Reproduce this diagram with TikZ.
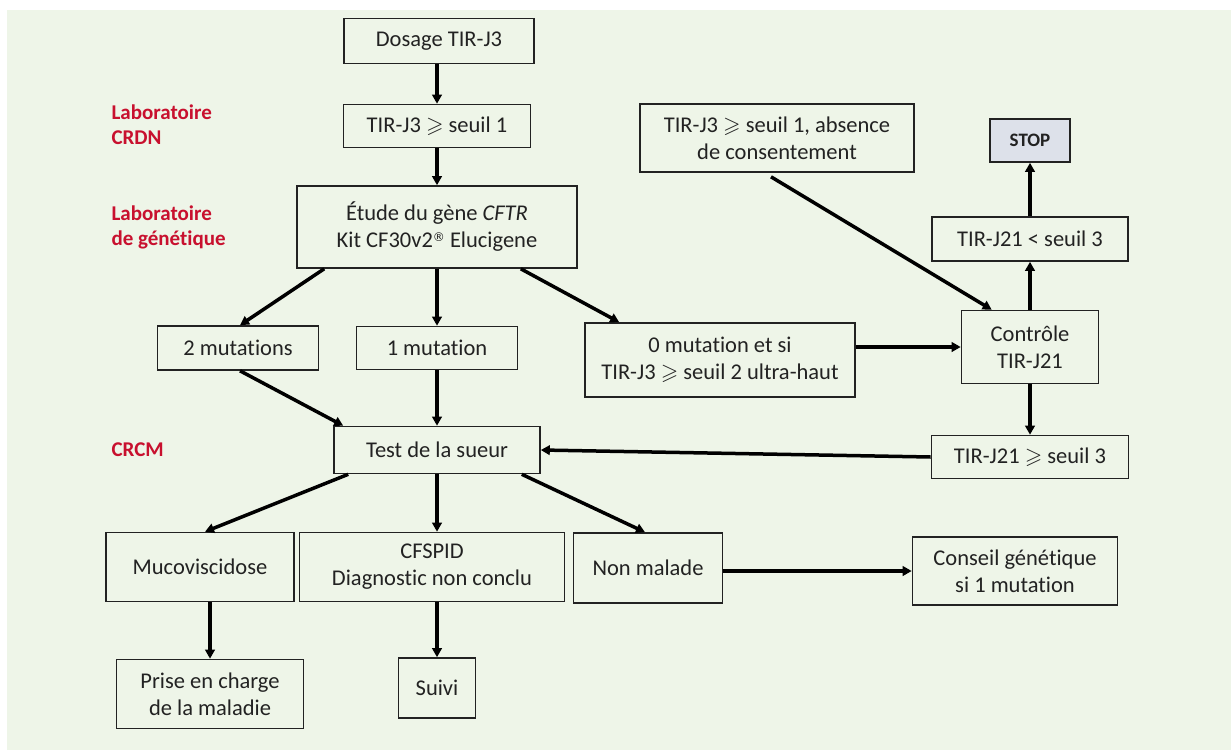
\documentclass[tikz,border=0pt]{standalone}
\usepackage{amssymb}
\usepackage{fontspec}
\setmainfont[Ligatures={NoCommon}]{Carlito}
\newfontfamily\regfont{DejaVu Sans}
\usetikzlibrary{arrows.meta,calc}
\definecolor{bgc}{RGB}{238,245,232}
\definecolor{redl}{RGB}{200,16,46}
\definecolor{stopc}{RGB}{221,225,234}
\definecolor{txt}{RGB}{34,34,34}
\begin{document}
\begin{tikzpicture}[x=1pt,y=-1pt,
 box/.style={draw=txt, line width=1.6pt, inner sep=0pt, align=center, text=txt, font=\fontsize{22.5}{27}\selectfont},
 arr/.style={line width=3.5pt, -{Triangle[length=9pt,width=9.5pt]}, black},
 lab/.style={anchor=west, align=left, text=redl, font=\fontsize{21}{25}\selectfont\bfseries}]

\fill[white] (0,0) rectangle (1231,750);
\fill[bgc] (7,10) rectangle (1231,750);
\useasboundingbox (0,0) rectangle (1231,750);

% side labels
\node[lab] (l1) at (108,125) {Laboratoire\\CRDN};
\node[lab] (l2) at (108,227) {Laboratoire\\de génétique};
\node[lab] (l3) at (108,450) {CRCM};

% boxes
\node[box, minimum width=190pt, minimum height=45pt] (dosage) at (439,41) {Dosage TIR-J3};
\node[box, minimum width=187pt, minimum height=43pt] (seuil1) at (437,126) {TIR-J3 $\geqslant$ seuil 1};
\node[box, minimum width=280pt, minimum height=82pt] (etude) at (437,227) {Étude du gène \textit{CFTR}\\Kit CF30v2\raisebox{0.6ex}{\regfont\fontsize{12}{12}\selectfont ®} Elucigene};
\node[box, minimum width=161pt, minimum height=44pt] (m2) at (238,348) {2 mutations};
\node[box, minimum width=161pt, minimum height=43pt] (m1) at (437,348) {1 mutation};
\node[box, minimum width=270pt, minimum height=74pt] (m0) at (720,360) {0 mutation et si\\TIR-J3 $\geqslant$ seuil 2 ultra-haut};
\node[box, minimum width=274pt, minimum height=68pt] (absence) at (777,138) {TIR-J3 $\geqslant$ seuil 1, absence\\de consentement};
\node[box, fill=stopc, minimum width=80pt, minimum height=43pt, font=\fontsize{19}{22}\selectfont\bfseries] (stop) at (1030,140.5) {STOP};
\node[box, minimum width=196pt, minimum height=44pt] (lt3) at (1030,239) {TIR-J21 < seuil 3};
\node[box, minimum width=137pt, minimum height=73pt] (ctrl) at (1030,347) {Contrôle\\TIR-J21};
\node[box, minimum width=197pt, minimum height=43pt] (ge3) at (1030,457) {TIR-J21 $\geqslant$ seuil 3};
\node[box, minimum width=206pt, minimum height=47pt] (test) at (437,450) {Test de la sueur};
\node[box, minimum width=188pt, minimum height=69pt] (muco) at (200,567) {Mucoviscidose};
\node[box, minimum width=265pt, minimum height=69pt] (cfspid) at (432,567) {CFSPID\\Diagnostic non conclu};
\node[box, minimum width=149pt, minimum height=70pt] (nonmal) at (648,568) {Non malade};
\node[box, minimum width=205pt, minimum height=68pt] (conseil) at (1015,571) {Conseil génétique\\si 1 mutation};
\node[box, minimum width=187pt, minimum height=69pt] (prise) at (210,694) {Prise en charge\\de la maladie};
\node[box, minimum width=77pt, minimum height=60pt] (suivi) at (437,688) {Suivi};

% connectors
\draw[arr] (seuil1.north |- dosage.south) -- (seuil1.north);
\draw[arr] (seuil1.south) -- (etude.north);
\draw[arr] ($(etude.south west)+(28,0)$) -- ($(m2.north)+(2,0)$);
\draw[arr] (etude.south) -- (m1.north);
\draw[arr] ($(etude.south east)+(-57,0)$) -- ($(m0.north west)+(35,0)$);
\draw[arr] ($(m2.south)+(2,0)$) -- ($(test.north west)+(10,0)$);
\draw[arr] (m1.south) -- (test.north);
\draw[arr] (m0.east |- ctrl.west) -- (ctrl.west);
\draw[arr] ($(absence.south)+(-6,4)$) -- ($(ctrl.north west)+(31,0)$);
\draw[arr] (ctrl.north) -- (lt3.south);
\draw[arr] (lt3.north) -- (stop.south);
\draw[arr] (ctrl.south) -- (ge3.north);
\draw[arr] (ge3.west) -- (test.east);
\draw[arr] ($(test.south west)+(15,0)$) -- ($(muco.north)+(5,0)$);
\draw[arr] (test.south) -- (test.south |- cfspid.north);
\draw[arr] ($(test.south east)+(-19,0)$) -- ($(nonmal.north)+(-3,0)$);
\draw[arr] (prise.north |- muco.south) -- (prise.north);
\draw[arr] (suivi.north |- cfspid.south) -- (suivi.north);
\draw[arr] (nonmal.east |- conseil.west) -- (conseil.west);
\end{tikzpicture}
\end{document}
